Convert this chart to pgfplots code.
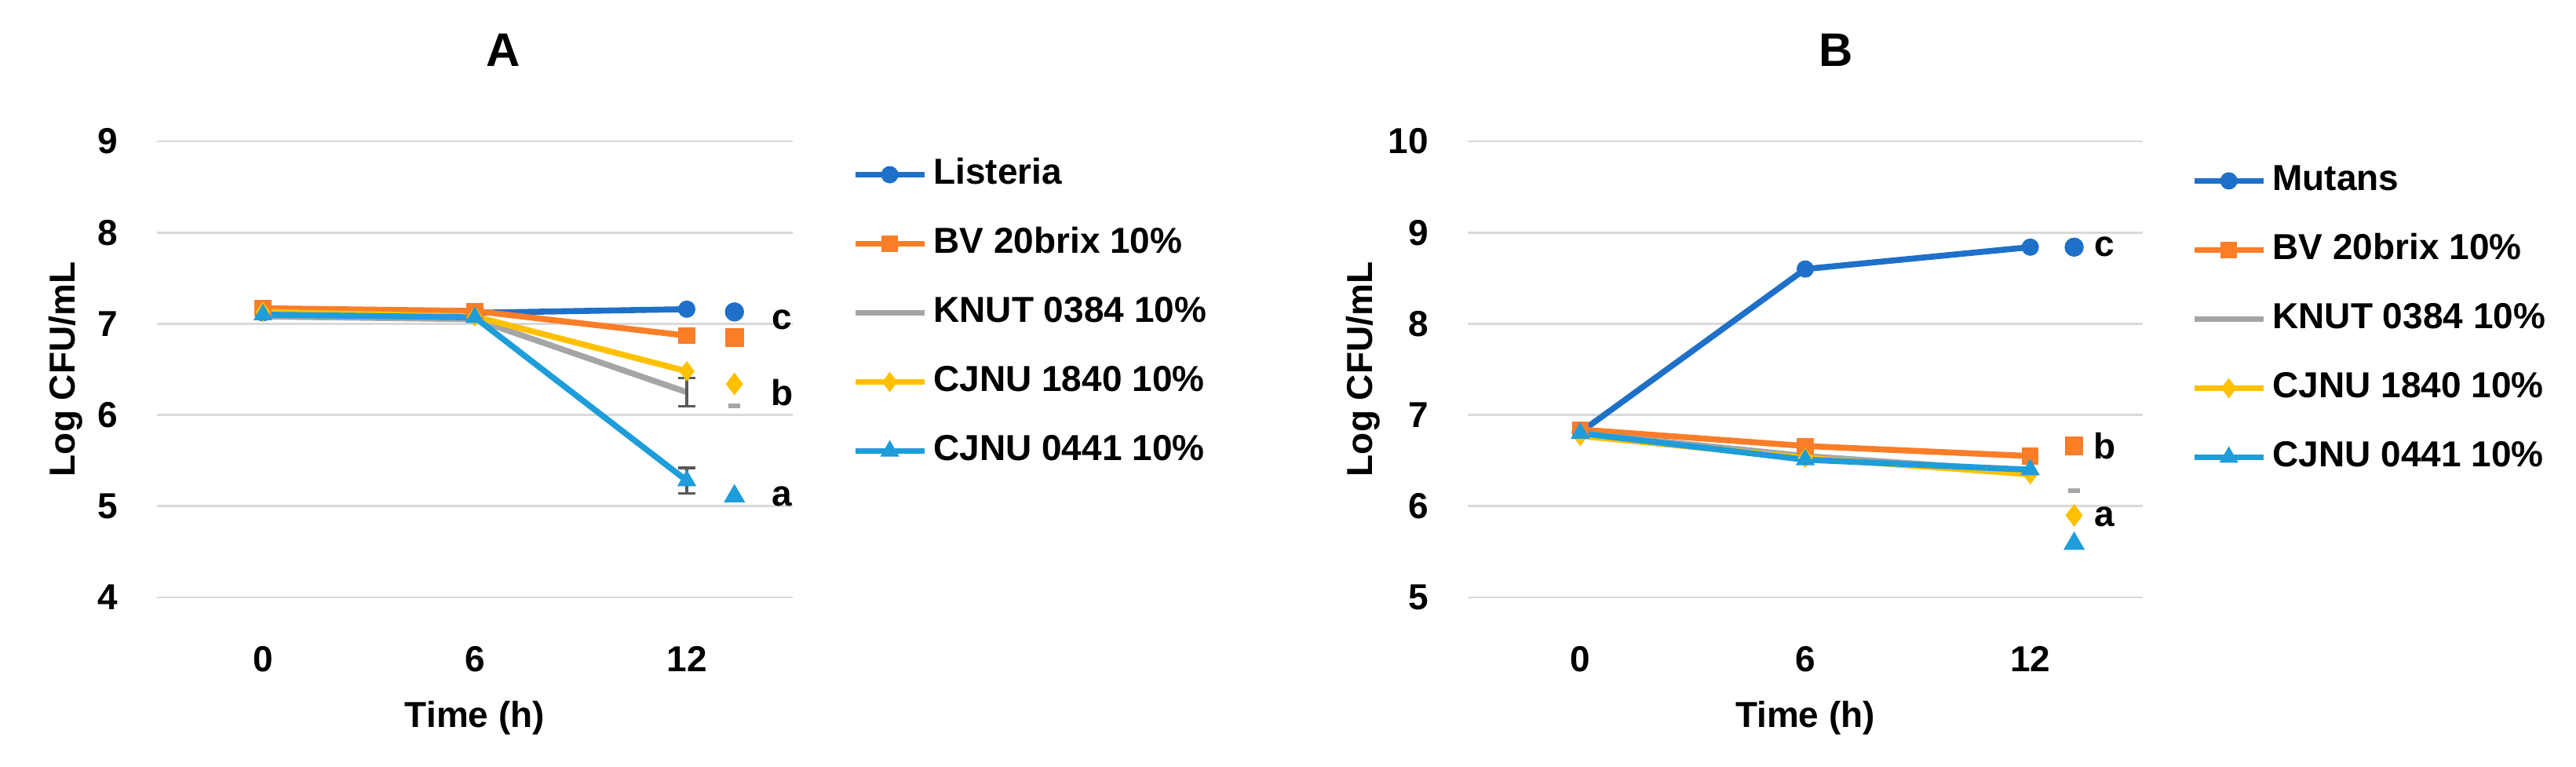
\documentclass[border=0pt]{standalone}
\usepackage{fontspec}
\setmainfont{Liberation Sans}
\usepackage{pgfplots}
\pgfplotsset{compat=1.18}

\definecolor{cBlue}{RGB}{30,112,200}
\definecolor{cOrange}{RGB}{250,125,40}
\definecolor{cGray}{RGB}{165,165,165}
\definecolor{cYellow}{RGB}{255,192,0}
\definecolor{cLBlue}{RGB}{30,157,218}
\definecolor{cGrid}{RGB}{217,217,217}
\definecolor{cErr}{RGB}{89,89,89}

\newcommand\lab{\fontsize{11.5}{13.8}\selectfont\bfseries}

\pgfplotsset{
  panel/.style={
    scale only axis, height=145.25pt,
    xmin=-3, xmax=15, xtick={0,6,12},
    ytick distance=1,
    axis line style={draw=none}, tick style={draw=none},
    ymajorgrids, grid style={cGrid, line width=0.7pt},
    clip=false,
    /pgf/number format/assume math mode=true,
    tick label style={font=\lab},
    yticklabel style={xshift=-9pt},
    xticklabel style={yshift=-12pt},
    label style={font=\lab},
    xlabel={Time (h)},
    ylabel={Log CFU/mL},
    xlabel style={at={(axis description cs:0.5,-0.265)}, anchor=center},
    title style={font=\fontsize{15}{18}\selectfont\bfseries,
      at={(axis description cs:0.545,1.158)}, anchor=center},
    legend cell align=left,
    legend style={draw=none, fill=none, inner sep=0pt, row sep=11pt,
      column sep=2pt, font=\lab,
      nodes={inner sep=0pt, text height=8.5pt, text depth=2.5pt}},
    legend image code/.code={\draw[mark repeat=2,mark phase=2]
      plot coordinates {(0pt,0pt)(11pt,0pt)(22pt,0pt)};},
  },
  sBlue/.style={cBlue, line width=1.9pt, mark=*, mark size=2.6pt, mark options={line width=0.3pt}},
  sOrange/.style={cOrange, line width=1.9pt, mark=square*, mark size=2.5pt, mark options={line width=0.3pt}},
  sGray/.style={cGray, line width=1.9pt, mark=none},
  sYellow/.style={cYellow, line width=1.9pt, mark=diamond*, mark size=3.0pt, mark options={line width=0.3pt}},
  sLBlue/.style={cLBlue, line width=1.9pt, mark=triangle*, mark size=3.2pt, mark options={line width=0.3pt}},
  ebar/.style={forget plot, draw=none, mark=none,
    error bars/.cd, y dir=both, y explicit,
    error bar style={cErr, line width=0.8pt},
    error mark options={cErr, rotate=90, mark size=2.7pt, line width=0.8pt}},
  extra/.style={forget plot, only marks, mark options={line width=0.3pt}},
  letters/.style={forget plot, draw=none, mark=none, nodes near coords,
    point meta=explicit symbolic,
    every node near coord/.append style={anchor=center, font=\lab, text=black}},
}

\begin{document}
\begin{tikzpicture}
\useasboundingbox (0,0) rectangle (820.5pt,244pt);

% Panel A
\begin{axis}[panel, at={(50pt,53.75pt)}, anchor=south west,
  width=202.5pt, ymin=4, ymax=9, title={A},
  ylabel style={at={(axis description cs:-0.143,0.5)}, anchor=center},
  legend style={at={(1.0926,0.966)}, anchor=north west}]
\addplot[sBlue] coordinates {(0,7.12) (6,7.12) (12,7.16)};
\addlegendentry{Listeria}
\addplot[sOrange] coordinates {(0,7.17) (6,7.14) (12,6.87)};
\addlegendentry{BV 20brix 10\%}
\addplot[sGray] coordinates {(0,7.08) (6,7.05) (12,6.25)};
\addlegendentry{KNUT 0384 10\%}
\addplot[sYellow] coordinates {(0,7.13) (6,7.08) (12,6.48)};
\addlegendentry{CJNU 1840 10\%}
\addplot[sLBlue] coordinates {(0,7.10) (6,7.07) (12,5.28)};
\addlegendentry{CJNU 0441 10\%}
\addplot[ebar] coordinates {(12,6.25) +- (0,0.155) (12,5.28) +- (0,0.14)};
% group markers
\addplot[extra, cBlue, mark=*, mark size=2.9pt] coordinates {(13.35,7.13)};
\addplot[extra, cOrange, mark=square*, mark size=2.8pt] coordinates {(13.35,6.85)};
\addplot[extra, cYellow, mark=diamond*, mark size=3.4pt] coordinates {(13.35,6.34)};
\addplot[extra, cGray, mark=-, mark size=1.9pt, mark options={line width=1.3pt}] coordinates {(13.35,6.10)};
\addplot[extra, cLBlue, mark=triangle*, mark size=3.6pt] coordinates {(13.35,5.11)};
\addplot[letters] table[meta=lab] {
x y lab
14.69 7.04 c
14.69 6.25 b
14.69 5.11 a
};
\end{axis}

% Panel B
\begin{axis}[panel, at={(467.5pt,53.75pt)}, anchor=south west,
  width=215pt, ymin=5, ymax=10, title={B},
  ylabel style={at={(axis description cs:-0.155,0.5)}, anchor=center},
  legend style={at={(1.071,0.9525)}, anchor=north west}]
\addplot[sBlue] coordinates {(0,6.81) (6,8.60) (12,8.84)};
\addlegendentry{Mutans}
\addplot[sOrange] coordinates {(0,6.84) (6,6.66) (12,6.55)};
\addlegendentry{BV 20brix 10\%}
\addplot[sGray] coordinates {(0,6.80) (6,6.55) (12,6.38)};
\addlegendentry{KNUT 0384 10\%}
\addplot[sYellow] coordinates {(0,6.77) (6,6.53) (12,6.35)};
\addlegendentry{CJNU 1840 10\%}
\addplot[sLBlue] coordinates {(0,6.80) (6,6.51) (12,6.40)};
\addlegendentry{CJNU 0441 10\%}
% group markers
\addplot[extra, cBlue, mark=*, mark size=2.9pt] coordinates {(13.17,8.84)};
\addplot[extra, cOrange, mark=square*, mark size=2.8pt] coordinates {(13.17,6.66)};
\addplot[extra, cGray, mark=-, mark size=1.9pt, mark options={line width=1.3pt}] coordinates {(13.17,6.17)};
\addplot[extra, cYellow, mark=diamond*, mark size=3.4pt] coordinates {(13.17,5.90)};
\addplot[extra, cLBlue, mark=triangle*, mark size=3.6pt] coordinates {(13.17,5.59)};
\addplot[letters] table[meta=lab] {
x y lab
13.98 8.84 c
13.98 6.66 b
13.98 5.88 a
};
\end{axis}
\end{tikzpicture}
\end{document}
